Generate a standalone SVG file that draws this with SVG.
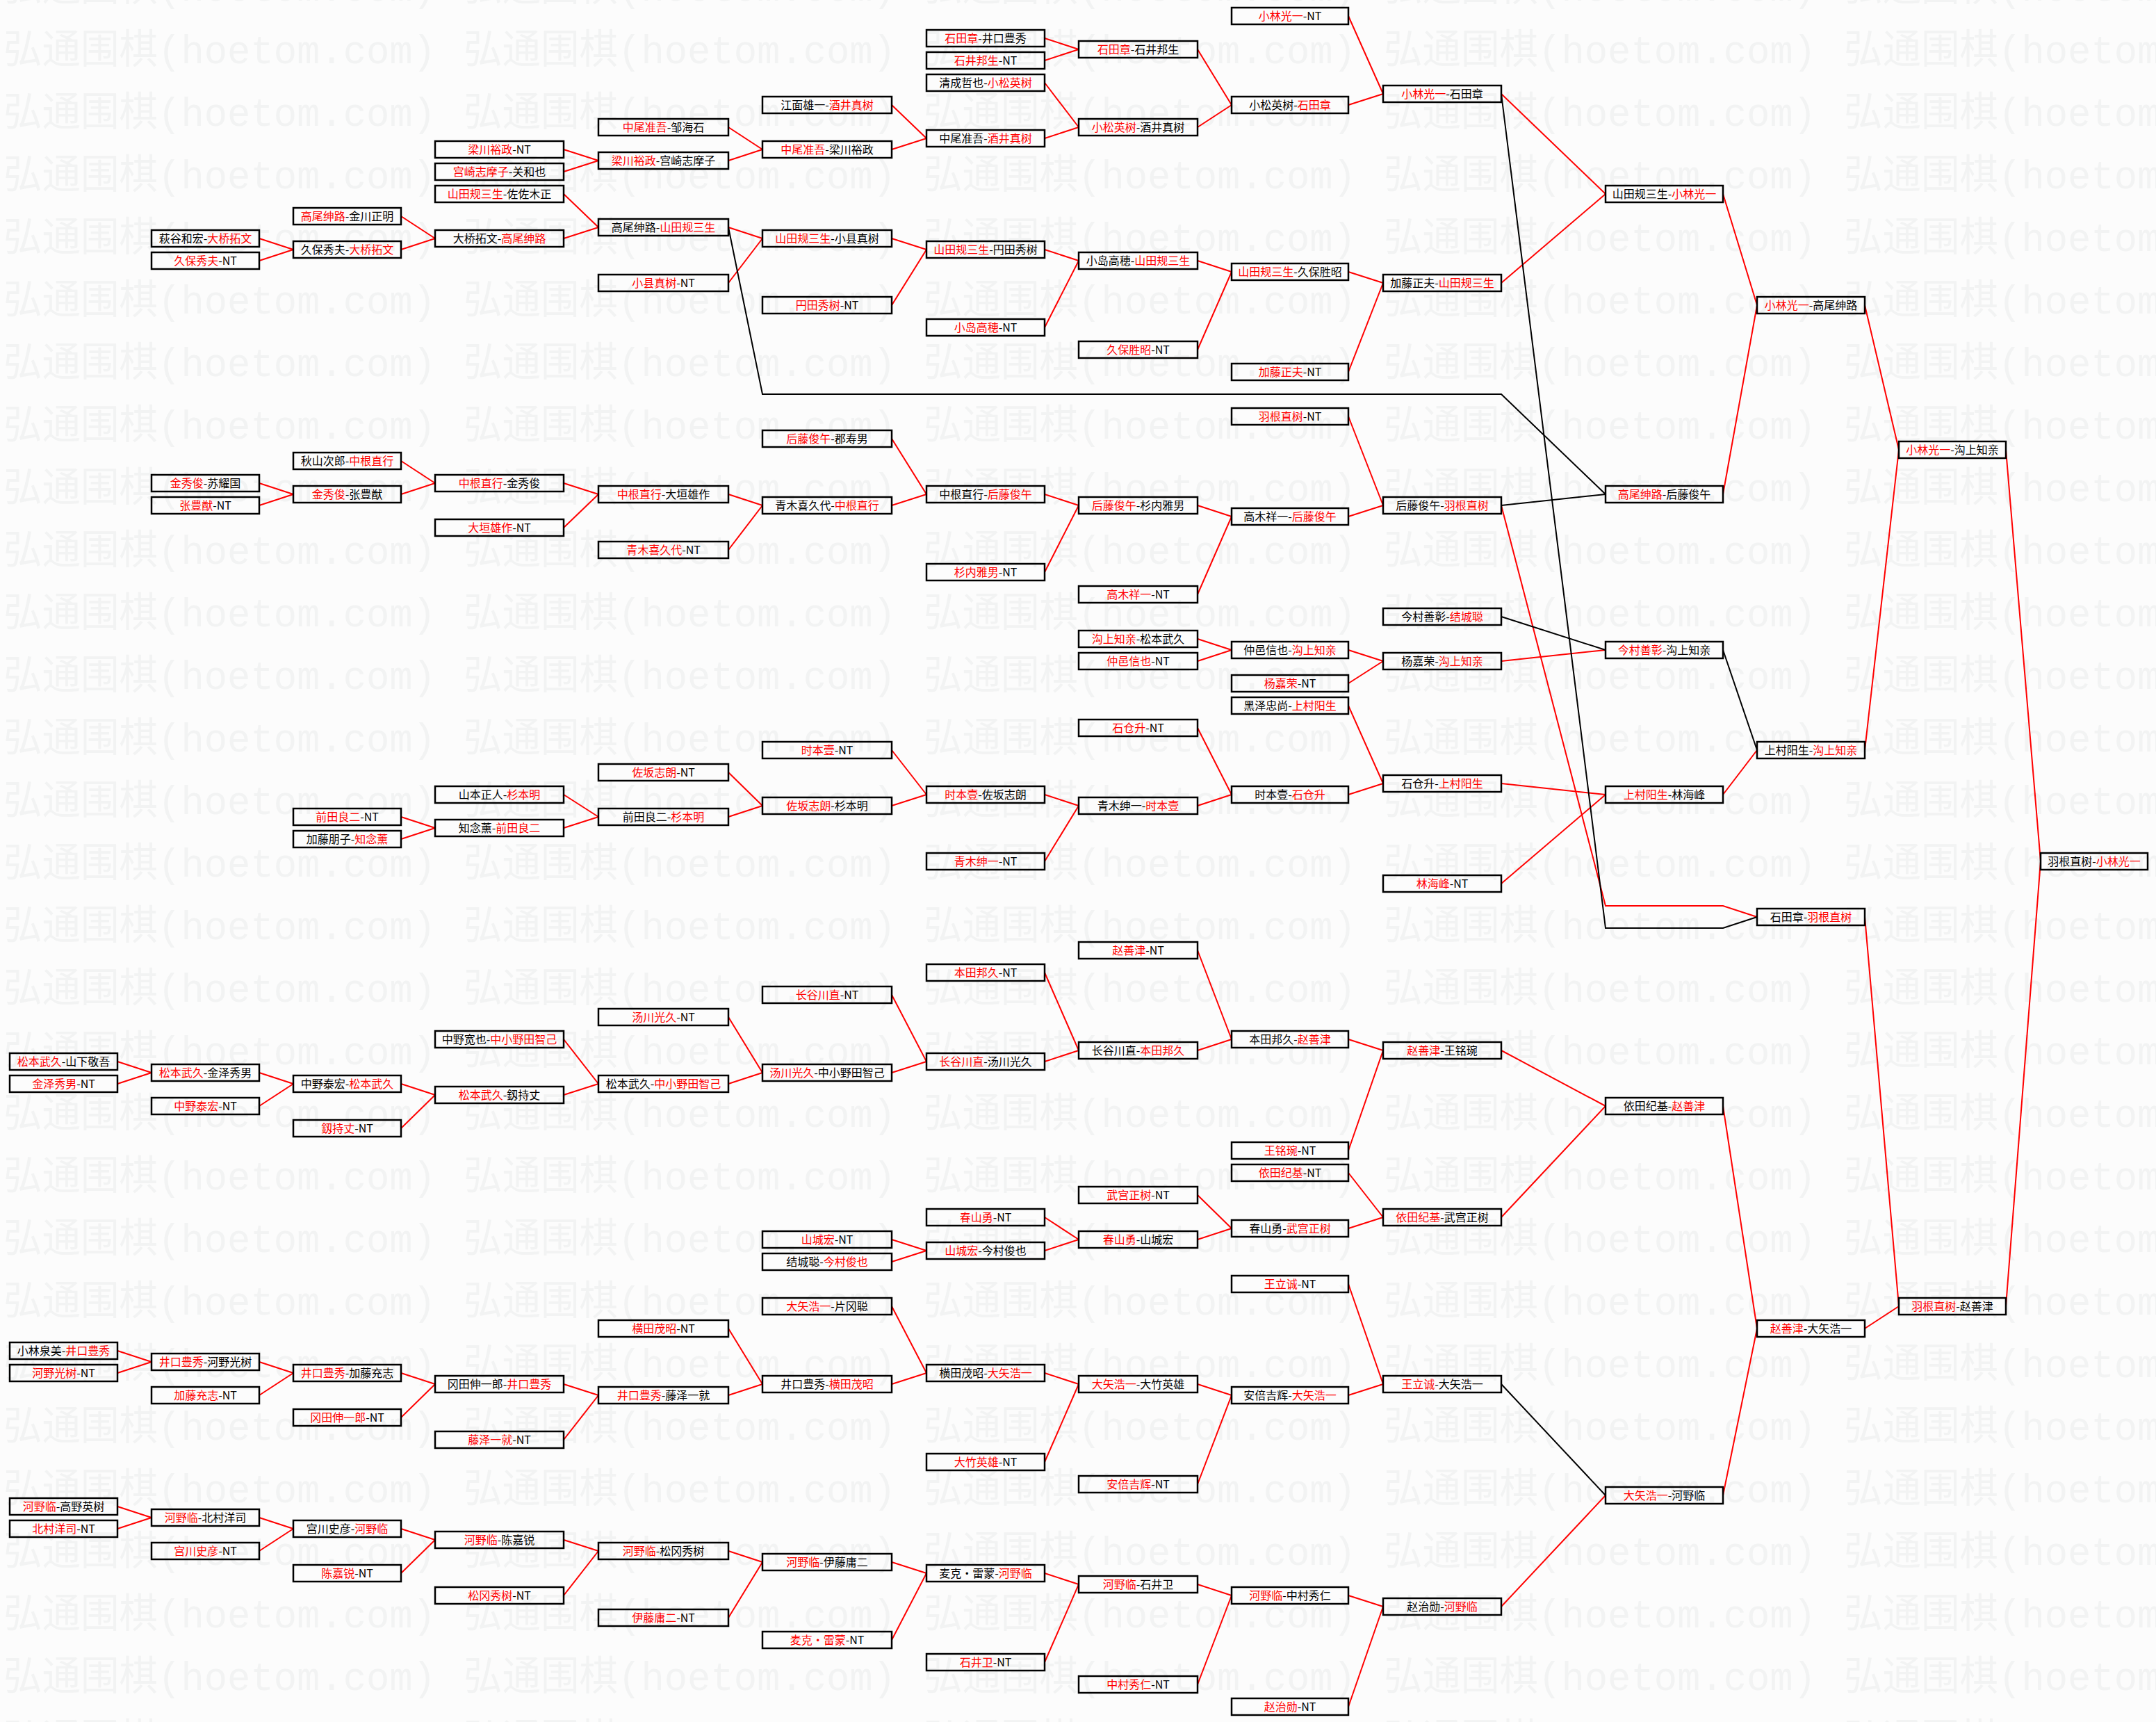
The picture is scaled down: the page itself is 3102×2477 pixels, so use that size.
<svg xmlns="http://www.w3.org/2000/svg" width="3102" height="2477" viewBox="0 0 3102 2477">
<style>
.n rect{fill:none;stroke:#000;stroke-width:2.5}
.n text{font-family:"Noto Sans CJK SC","Noto Sans CJK JP",sans-serif;font-size:16px;text-anchor:middle;fill:#000}
.r{fill:#f00}
.cr path{fill:none;stroke:#f00;stroke-width:2}
.cb path{fill:none;stroke:#000;stroke-width:2}
.w{font-family:"Liberation Mono","Noto Sans CJK SC",monospace;font-size:58px;fill:#f2f3f3}
</style>
<defs>
<pattern id="wm" patternUnits="userSpaceOnUse" x="5" y="24" width="662" height="90">
<text class="w" x="0" y="67" textLength="622" lengthAdjust="spacingAndGlyphs">弘通围棋(hoetom.com)</text>
</pattern>
</defs>
<rect width="3102" height="2477" fill="#fcfcfc"/>
<rect width="3102" height="2477" fill="url(#wm)"/>

<g id="connectors">
<g class="cr">
<path d="M169 1527L218 1543"/><path d="M169 1559L218 1543"/><path d="M169 1943L218 1959"/><path d="M169 1975L218 1959"/><path d="M169 2167L218 2183"/><path d="M169 2199L218 2183"/>
<path d="M373 343L422 359"/><path d="M373 375L422 359"/><path d="M373 695L422 711"/><path d="M373 727L422 711"/><path d="M373 1543L422 1559"/><path d="M373 1591L422 1559"/><path d="M373 1959L422 1975"/><path d="M373 2007L422 1975"/><path d="M373 2183L422 2199"/><path d="M373 2231L422 2199"/>
<path d="M577 311L626 343"/><path d="M577 359L626 343"/><path d="M577 663L626 695"/><path d="M577 711L626 695"/><path d="M577 1175L626 1191"/><path d="M577 1207L626 1191"/><path d="M577 1559L626 1575"/><path d="M577 1623L626 1575"/><path d="M577 1975L626 1991"/><path d="M577 2039L626 1991"/><path d="M577 2199L626 2215"/><path d="M577 2263L626 2215"/>
<path d="M811 215L861 231"/><path d="M811 247L861 231"/><path d="M811 279L861 327"/><path d="M811 343L861 327"/><path d="M811 695L861 711"/><path d="M811 759L861 711"/><path d="M811 1143L861 1175"/><path d="M811 1191L861 1175"/><path d="M811 1495L861 1559"/><path d="M811 1575L861 1559"/><path d="M811 1991L861 2007"/><path d="M811 2071L861 2007"/><path d="M811 2215L861 2231"/><path d="M811 2295L861 2231"/>
<path d="M1048 183L1097 215"/><path d="M1048 231L1097 215"/><path d="M1048 327L1097 343"/><path d="M1048 407L1097 343"/><path d="M1048 711L1097 727"/><path d="M1048 791L1097 727"/><path d="M1048 1111L1097 1159"/><path d="M1048 1175L1097 1159"/><path d="M1048 1463L1097 1543"/><path d="M1048 1559L1097 1543"/><path d="M1048 1911L1097 1991"/><path d="M1048 2007L1097 1991"/><path d="M1048 2231L1097 2247"/><path d="M1048 2327L1097 2247"/>
<path d="M1283 151L1333 199"/><path d="M1283 215L1333 199"/><path d="M1283 343L1333 359"/><path d="M1283 439L1333 359"/><path d="M1283 631L1333 711"/><path d="M1283 727L1333 711"/><path d="M1283 1079L1333 1143"/><path d="M1283 1159L1333 1143"/><path d="M1283 1431L1333 1527"/><path d="M1283 1543L1333 1527"/><path d="M1283 1783L1333 1799"/><path d="M1283 1815L1333 1799"/><path d="M1283 1879L1333 1975"/><path d="M1283 1991L1333 1975"/><path d="M1283 2247L1333 2263"/><path d="M1283 2359L1333 2263"/>
<path d="M1503 55L1552 71"/><path d="M1503 87L1552 71"/><path d="M1503 119L1552 183"/><path d="M1503 199L1552 183"/><path d="M1503 359L1552 375"/><path d="M1503 471L1552 375"/><path d="M1503 711L1552 727"/><path d="M1503 823L1552 727"/><path d="M1503 1143L1552 1159"/><path d="M1503 1239L1552 1159"/><path d="M1503 1399L1552 1511"/><path d="M1503 1527L1552 1511"/><path d="M1503 1751L1552 1783"/><path d="M1503 1799L1552 1783"/><path d="M1503 1975L1552 1991"/><path d="M1503 2103L1552 1991"/><path d="M1503 2263L1552 2279"/><path d="M1503 2391L1552 2279"/>
<path d="M1723 71L1772 151"/><path d="M1723 183L1772 151"/><path d="M1723 375L1772 391"/><path d="M1723 503L1772 391"/><path d="M1723 727L1772 743"/><path d="M1723 855L1772 743"/><path d="M1723 919L1772 935"/><path d="M1723 951L1772 935"/><path d="M1723 1047L1772 1143"/><path d="M1723 1159L1772 1143"/><path d="M1723 1367L1772 1495"/><path d="M1723 1511L1772 1495"/><path d="M1723 1719L1772 1767"/><path d="M1723 1783L1772 1767"/><path d="M1723 1991L1772 2007"/><path d="M1723 2135L1772 2007"/><path d="M1723 2279L1772 2295"/><path d="M1723 2423L1772 2295"/>
<path d="M1940 23L1990 135"/><path d="M1940 151L1990 135"/><path d="M1940 391L1990 407"/><path d="M1940 535L1990 407"/><path d="M1940 599L1990 727"/><path d="M1940 743L1990 727"/><path d="M1940 935L1990 951"/><path d="M1940 983L1990 951"/><path d="M1940 1015L1990 1127"/><path d="M1940 1143L1990 1127"/><path d="M1940 1495L1990 1511"/><path d="M1940 1655L1990 1511"/><path d="M1940 1687L1990 1751"/><path d="M1940 1767L1990 1751"/><path d="M1940 1847L1990 1991"/><path d="M1940 2007L1990 1991"/><path d="M1940 2295L1990 2311"/><path d="M1940 2455L1990 2311"/>
<path d="M2160 135L2310 279"/><path d="M2160 407L2310 279"/><path d="M2160 951L2310 935"/><path d="M2160 1127L2310 1143"/><path d="M2160 1271L2310 1143"/><path d="M2160 1511L2310 1591"/><path d="M2160 1751L2310 1591"/><path d="M2160 2311L2310 2151"/>
<path d="M2160 727L2310 1303L2479 1303L2528 1319"/>
<path d="M2479 279L2528 439"/><path d="M2479 711L2528 439"/><path d="M2479 1143L2528 1079"/><path d="M2479 1591L2528 1911"/><path d="M2479 2151L2528 1911"/>
<path d="M2683 439L2732 647"/><path d="M2683 1079L2732 647"/><path d="M2683 1319L2732 1879"/><path d="M2683 1911L2732 1879"/>
<path d="M2886 647L2936 1239"/><path d="M2886 1879L2936 1239"/>
</g>
<g class="cb">
<path d="M1048 327L1097 567L2160 567L2310 711"/>
<path d="M2160 727L2310 711"/>
<path d="M2160 135L2310 1335L2479 1335L2528 1319"/>
<path d="M2160 887L2310 935"/>
<path d="M2479 935L2528 1079"/>
<path d="M2160 1991L2310 2151"/>
</g>
</g>

<g id="A1" class="n" transform="translate(14,1515)"><rect width="155" height="24"/><text x="77.5" y="17.5"><tspan class="r">松本武久</tspan>-山下敬吾</text></g>
<g id="A2" class="n" transform="translate(14,1547)"><rect width="155" height="24"/><text x="77.5" y="17.5"><tspan class="r">金泽秀男</tspan>-NT</text></g>
<g id="A3" class="n" transform="translate(14,1931)"><rect width="155" height="24"/><text x="77.5" y="17.5">小林泉美-<tspan class="r">井口豊秀</tspan></text></g>
<g id="A4" class="n" transform="translate(14,1963)"><rect width="155" height="24"/><text x="77.5" y="17.5"><tspan class="r">河野光树</tspan>-NT</text></g>
<g id="A5" class="n" transform="translate(14,2155)"><rect width="155" height="24"/><text x="77.5" y="17.5"><tspan class="r">河野临</tspan>-高野英树</text></g>
<g id="A6" class="n" transform="translate(14,2187)"><rect width="155" height="24"/><text x="77.5" y="17.5"><tspan class="r">北村洋司</tspan>-NT</text></g>

<g id="B1" class="n" transform="translate(218,331)"><rect width="155" height="24"/><text x="77.5" y="17.5">萩谷和宏-<tspan class="r">大桥拓文</tspan></text></g>
<g id="B2" class="n" transform="translate(218,363)"><rect width="155" height="24"/><text x="77.5" y="17.5"><tspan class="r">久保秀夫</tspan>-NT</text></g>
<g id="B3" class="n" transform="translate(218,683)"><rect width="155" height="24"/><text x="77.5" y="17.5"><tspan class="r">金秀俊</tspan>-苏耀国</text></g>
<g id="B4" class="n" transform="translate(218,715)"><rect width="155" height="24"/><text x="77.5" y="17.5"><tspan class="r">张豊猷</tspan>-NT</text></g>
<g id="B5" class="n" transform="translate(218,1531)"><rect width="155" height="24"/><text x="77.5" y="17.5"><tspan class="r">松本武久</tspan>-金泽秀男</text></g>
<g id="B6" class="n" transform="translate(218,1579)"><rect width="155" height="24"/><text x="77.5" y="17.5"><tspan class="r">中野泰宏</tspan>-NT</text></g>
<g id="B7" class="n" transform="translate(218,1947)"><rect width="155" height="24"/><text x="77.5" y="17.5"><tspan class="r">井口豊秀</tspan>-河野光树</text></g>
<g id="B8" class="n" transform="translate(218,1995)"><rect width="155" height="24"/><text x="77.5" y="17.5"><tspan class="r">加藤充志</tspan>-NT</text></g>
<g id="B9" class="n" transform="translate(218,2171)"><rect width="155" height="24"/><text x="77.5" y="17.5"><tspan class="r">河野临</tspan>-北村洋司</text></g>
<g id="B10" class="n" transform="translate(218,2219)"><rect width="155" height="24"/><text x="77.5" y="17.5"><tspan class="r">宫川史彦</tspan>-NT</text></g>

<g id="C1" class="n" transform="translate(422,299)"><rect width="155" height="24"/><text x="77.5" y="17.5"><tspan class="r">高尾绅路</tspan>-金川正明</text></g>
<g id="C2" class="n" transform="translate(422,347)"><rect width="155" height="24"/><text x="77.5" y="17.5">久保秀夫-<tspan class="r">大桥拓文</tspan></text></g>
<g id="C3" class="n" transform="translate(422,651)"><rect width="155" height="24"/><text x="77.5" y="17.5">秋山次郎-<tspan class="r">中根直行</tspan></text></g>
<g id="C4" class="n" transform="translate(422,699)"><rect width="155" height="24"/><text x="77.5" y="17.5"><tspan class="r">金秀俊</tspan>-张豊猷</text></g>
<g id="C5" class="n" transform="translate(422,1163)"><rect width="155" height="24"/><text x="77.5" y="17.5"><tspan class="r">前田良二</tspan>-NT</text></g>
<g id="C6" class="n" transform="translate(422,1195)"><rect width="155" height="24"/><text x="77.5" y="17.5">加藤朋子-<tspan class="r">知念薰</tspan></text></g>
<g id="C7" class="n" transform="translate(422,1547)"><rect width="155" height="24"/><text x="77.5" y="17.5">中野泰宏-<tspan class="r">松本武久</tspan></text></g>
<g id="C8" class="n" transform="translate(422,1611)"><rect width="155" height="24"/><text x="77.5" y="17.5"><tspan class="r">釼持丈</tspan>-NT</text></g>
<g id="C9" class="n" transform="translate(422,1963)"><rect width="155" height="24"/><text x="77.5" y="17.5"><tspan class="r">井口豊秀</tspan>-加藤充志</text></g>
<g id="C10" class="n" transform="translate(422,2027)"><rect width="155" height="24"/><text x="77.5" y="17.5"><tspan class="r">冈田伸一郎</tspan>-NT</text></g>
<g id="C11" class="n" transform="translate(422,2187)"><rect width="155" height="24"/><text x="77.5" y="17.5">宫川史彦-<tspan class="r">河野临</tspan></text></g>
<g id="C12" class="n" transform="translate(422,2251)"><rect width="155" height="24"/><text x="77.5" y="17.5"><tspan class="r">陈嘉锐</tspan>-NT</text></g>

<g id="D1" class="n" transform="translate(626,203)"><rect width="185" height="24"/><text x="92.5" y="17.5"><tspan class="r">梁川裕政</tspan>-NT</text></g>
<g id="D2" class="n" transform="translate(626,235)"><rect width="185" height="24"/><text x="92.5" y="17.5"><tspan class="r">宫崎志摩子</tspan>-关和也</text></g>
<g id="D3" class="n" transform="translate(626,267)"><rect width="185" height="24"/><text x="92.5" y="17.5"><tspan class="r">山田规三生</tspan>-佐佐木正</text></g>
<g id="D4" class="n" transform="translate(626,331)"><rect width="185" height="24"/><text x="92.5" y="17.5">大桥拓文-<tspan class="r">高尾绅路</tspan></text></g>
<g id="D5" class="n" transform="translate(626,683)"><rect width="185" height="24"/><text x="92.5" y="17.5"><tspan class="r">中根直行</tspan>-金秀俊</text></g>
<g id="D6" class="n" transform="translate(626,747)"><rect width="185" height="24"/><text x="92.5" y="17.5"><tspan class="r">大垣雄作</tspan>-NT</text></g>
<g id="D7" class="n" transform="translate(626,1131)"><rect width="185" height="24"/><text x="92.5" y="17.5">山本正人-<tspan class="r">杉本明</tspan></text></g>
<g id="D8" class="n" transform="translate(626,1179)"><rect width="185" height="24"/><text x="92.5" y="17.5">知念薰-<tspan class="r">前田良二</tspan></text></g>
<g id="D9" class="n" transform="translate(626,1483)"><rect width="185" height="24"/><text x="92.5" y="17.5">中野宽也-<tspan class="r">中小野田智己</tspan></text></g>
<g id="D10" class="n" transform="translate(626,1563)"><rect width="185" height="24"/><text x="92.5" y="17.5"><tspan class="r">松本武久</tspan>-釼持丈</text></g>
<g id="D11" class="n" transform="translate(626,1979)"><rect width="185" height="24"/><text x="92.5" y="17.5">冈田伸一郎-<tspan class="r">井口豊秀</tspan></text></g>
<g id="D12" class="n" transform="translate(626,2059)"><rect width="185" height="24"/><text x="92.5" y="17.5"><tspan class="r">藤泽一就</tspan>-NT</text></g>
<g id="D13" class="n" transform="translate(626,2203)"><rect width="185" height="24"/><text x="92.5" y="17.5"><tspan class="r">河野临</tspan>-陈嘉锐</text></g>
<g id="D14" class="n" transform="translate(626,2283)"><rect width="185" height="24"/><text x="92.5" y="17.5"><tspan class="r">松冈秀树</tspan>-NT</text></g>

<g id="E1" class="n" transform="translate(861,171)"><rect width="187" height="24"/><text x="93.5" y="17.5"><tspan class="r">中尾准吾</tspan>-邹海石</text></g>
<g id="E2" class="n" transform="translate(861,219)"><rect width="187" height="24"/><text x="93.5" y="17.5"><tspan class="r">梁川裕政</tspan>-宫崎志摩子</text></g>
<g id="E3" class="n" transform="translate(861,315)"><rect width="187" height="24"/><text x="93.5" y="17.5">高尾绅路-<tspan class="r">山田规三生</tspan></text></g>
<g id="E4" class="n" transform="translate(861,395)"><rect width="187" height="24"/><text x="93.5" y="17.5"><tspan class="r">小县真树</tspan>-NT</text></g>
<g id="E5" class="n" transform="translate(861,699)"><rect width="187" height="24"/><text x="93.5" y="17.5"><tspan class="r">中根直行</tspan>-大垣雄作</text></g>
<g id="E6" class="n" transform="translate(861,779)"><rect width="187" height="24"/><text x="93.5" y="17.5"><tspan class="r">青木喜久代</tspan>-NT</text></g>
<g id="E7" class="n" transform="translate(861,1099)"><rect width="187" height="24"/><text x="93.5" y="17.5"><tspan class="r">佐坂志朗</tspan>-NT</text></g>
<g id="E8" class="n" transform="translate(861,1163)"><rect width="187" height="24"/><text x="93.5" y="17.5">前田良二-<tspan class="r">杉本明</tspan></text></g>
<g id="E9" class="n" transform="translate(861,1451)"><rect width="187" height="24"/><text x="93.5" y="17.5"><tspan class="r">汤川光久</tspan>-NT</text></g>
<g id="E10" class="n" transform="translate(861,1547)"><rect width="187" height="24"/><text x="93.5" y="17.5">松本武久-<tspan class="r">中小野田智己</tspan></text></g>
<g id="E11" class="n" transform="translate(861,1899)"><rect width="187" height="24"/><text x="93.5" y="17.5"><tspan class="r">横田茂昭</tspan>-NT</text></g>
<g id="E12" class="n" transform="translate(861,1995)"><rect width="187" height="24"/><text x="93.5" y="17.5"><tspan class="r">井口豊秀</tspan>-藤泽一就</text></g>
<g id="E13" class="n" transform="translate(861,2219)"><rect width="187" height="24"/><text x="93.5" y="17.5"><tspan class="r">河野临</tspan>-松冈秀树</text></g>
<g id="E14" class="n" transform="translate(861,2315)"><rect width="187" height="24"/><text x="93.5" y="17.5"><tspan class="r">伊藤庸二</tspan>-NT</text></g>

<g id="F1" class="n" transform="translate(1097,139)"><rect width="186" height="24"/><text x="93" y="17.5">江面雄一-<tspan class="r">酒井真树</tspan></text></g>
<g id="F2" class="n" transform="translate(1097,203)"><rect width="186" height="24"/><text x="93" y="17.5"><tspan class="r">中尾准吾</tspan>-梁川裕政</text></g>
<g id="F3" class="n" transform="translate(1097,331)"><rect width="186" height="24"/><text x="93" y="17.5"><tspan class="r">山田规三生</tspan>-小县真树</text></g>
<g id="F4" class="n" transform="translate(1097,427)"><rect width="186" height="24"/><text x="93" y="17.5"><tspan class="r">円田秀树</tspan>-NT</text></g>
<g id="F5" class="n" transform="translate(1097,619)"><rect width="186" height="24"/><text x="93" y="17.5"><tspan class="r">后藤俊午</tspan>-郡寿男</text></g>
<g id="F6" class="n" transform="translate(1097,715)"><rect width="186" height="24"/><text x="93" y="17.5">青木喜久代-<tspan class="r">中根直行</tspan></text></g>
<g id="F7" class="n" transform="translate(1097,1067)"><rect width="186" height="24"/><text x="93" y="17.5"><tspan class="r">时本壹</tspan>-NT</text></g>
<g id="F8" class="n" transform="translate(1097,1147)"><rect width="186" height="24"/><text x="93" y="17.5"><tspan class="r">佐坂志朗</tspan>-杉本明</text></g>
<g id="F9" class="n" transform="translate(1097,1419)"><rect width="186" height="24"/><text x="93" y="17.5"><tspan class="r">长谷川直</tspan>-NT</text></g>
<g id="F10" class="n" transform="translate(1097,1531)"><rect width="186" height="24"/><text x="93" y="17.5"><tspan class="r">汤川光久</tspan>-中小野田智己</text></g>
<g id="F11" class="n" transform="translate(1097,1771)"><rect width="186" height="24"/><text x="93" y="17.5"><tspan class="r">山城宏</tspan>-NT</text></g>
<g id="F12" class="n" transform="translate(1097,1803)"><rect width="186" height="24"/><text x="93" y="17.5">结城聪-<tspan class="r">今村俊也</tspan></text></g>
<g id="F13" class="n" transform="translate(1097,1867)"><rect width="186" height="24"/><text x="93" y="17.5"><tspan class="r">大矢浩一</tspan>-片冈聪</text></g>
<g id="F14" class="n" transform="translate(1097,1979)"><rect width="186" height="24"/><text x="93" y="17.5">井口豊秀-<tspan class="r">横田茂昭</tspan></text></g>
<g id="F15" class="n" transform="translate(1097,2235)"><rect width="186" height="24"/><text x="93" y="17.5"><tspan class="r">河野临</tspan>-伊藤庸二</text></g>
<g id="F16" class="n" transform="translate(1097,2347)"><rect width="186" height="24"/><text x="93" y="17.5"><tspan class="r">麦克・雷蒙</tspan>-NT</text></g>

<g id="G1" class="n" transform="translate(1333,43)"><rect width="170" height="24"/><text x="85" y="17.5"><tspan class="r">石田章</tspan>-井口豊秀</text></g>
<g id="G2" class="n" transform="translate(1333,75)"><rect width="170" height="24"/><text x="85" y="17.5"><tspan class="r">石井邦生</tspan>-NT</text></g>
<g id="G3" class="n" transform="translate(1333,107)"><rect width="170" height="24"/><text x="85" y="17.5">清成哲也-<tspan class="r">小松英树</tspan></text></g>
<g id="G4" class="n" transform="translate(1333,187)"><rect width="170" height="24"/><text x="85" y="17.5">中尾准吾-<tspan class="r">酒井真树</tspan></text></g>
<g id="G5" class="n" transform="translate(1333,347)"><rect width="170" height="24"/><text x="85" y="17.5"><tspan class="r">山田规三生</tspan>-円田秀树</text></g>
<g id="G6" class="n" transform="translate(1333,459)"><rect width="170" height="24"/><text x="85" y="17.5"><tspan class="r">小岛高穂</tspan>-NT</text></g>
<g id="G7" class="n" transform="translate(1333,699)"><rect width="170" height="24"/><text x="85" y="17.5">中根直行-<tspan class="r">后藤俊午</tspan></text></g>
<g id="G8" class="n" transform="translate(1333,811)"><rect width="170" height="24"/><text x="85" y="17.5"><tspan class="r">杉内雅男</tspan>-NT</text></g>
<g id="G9" class="n" transform="translate(1333,1131)"><rect width="170" height="24"/><text x="85" y="17.5"><tspan class="r">时本壹</tspan>-佐坂志朗</text></g>
<g id="G10" class="n" transform="translate(1333,1227)"><rect width="170" height="24"/><text x="85" y="17.5"><tspan class="r">青木绅一</tspan>-NT</text></g>
<g id="G11" class="n" transform="translate(1333,1387)"><rect width="170" height="24"/><text x="85" y="17.5"><tspan class="r">本田邦久</tspan>-NT</text></g>
<g id="G12" class="n" transform="translate(1333,1515)"><rect width="170" height="24"/><text x="85" y="17.5"><tspan class="r">长谷川直</tspan>-汤川光久</text></g>
<g id="G13" class="n" transform="translate(1333,1739)"><rect width="170" height="24"/><text x="85" y="17.5"><tspan class="r">春山勇</tspan>-NT</text></g>
<g id="G14" class="n" transform="translate(1333,1787)"><rect width="170" height="24"/><text x="85" y="17.5"><tspan class="r">山城宏</tspan>-今村俊也</text></g>
<g id="G15" class="n" transform="translate(1333,1963)"><rect width="170" height="24"/><text x="85" y="17.5">横田茂昭-<tspan class="r">大矢浩一</tspan></text></g>
<g id="G16" class="n" transform="translate(1333,2091)"><rect width="170" height="24"/><text x="85" y="17.5"><tspan class="r">大竹英雄</tspan>-NT</text></g>
<g id="G17" class="n" transform="translate(1333,2251)"><rect width="170" height="24"/><text x="85" y="17.5">麦克・雷蒙-<tspan class="r">河野临</tspan></text></g>
<g id="G18" class="n" transform="translate(1333,2379)"><rect width="170" height="24"/><text x="85" y="17.5"><tspan class="r">石井卫</tspan>-NT</text></g>

<g id="H1" class="n" transform="translate(1552,59)"><rect width="171" height="24"/><text x="85.5" y="17.5"><tspan class="r">石田章</tspan>-石井邦生</text></g>
<g id="H2" class="n" transform="translate(1552,171)"><rect width="171" height="24"/><text x="85.5" y="17.5"><tspan class="r">小松英树</tspan>-酒井真树</text></g>
<g id="H3" class="n" transform="translate(1552,363)"><rect width="171" height="24"/><text x="85.5" y="17.5">小岛高穂-<tspan class="r">山田规三生</tspan></text></g>
<g id="H4" class="n" transform="translate(1552,491)"><rect width="171" height="24"/><text x="85.5" y="17.5"><tspan class="r">久保胜昭</tspan>-NT</text></g>
<g id="H5" class="n" transform="translate(1552,715)"><rect width="171" height="24"/><text x="85.5" y="17.5"><tspan class="r">后藤俊午</tspan>-杉内雅男</text></g>
<g id="H6" class="n" transform="translate(1552,843)"><rect width="171" height="24"/><text x="85.5" y="17.5"><tspan class="r">高木祥一</tspan>-NT</text></g>
<g id="H7" class="n" transform="translate(1552,907)"><rect width="171" height="24"/><text x="85.5" y="17.5"><tspan class="r">沟上知亲</tspan>-松本武久</text></g>
<g id="H8" class="n" transform="translate(1552,939)"><rect width="171" height="24"/><text x="85.5" y="17.5"><tspan class="r">仲邑信也</tspan>-NT</text></g>
<g id="H9" class="n" transform="translate(1552,1035)"><rect width="171" height="24"/><text x="85.5" y="17.5"><tspan class="r">石仓升</tspan>-NT</text></g>
<g id="H10" class="n" transform="translate(1552,1147)"><rect width="171" height="24"/><text x="85.5" y="17.5">青木绅一-<tspan class="r">时本壹</tspan></text></g>
<g id="H11" class="n" transform="translate(1552,1355)"><rect width="171" height="24"/><text x="85.5" y="17.5"><tspan class="r">赵善津</tspan>-NT</text></g>
<g id="H12" class="n" transform="translate(1552,1499)"><rect width="171" height="24"/><text x="85.5" y="17.5">长谷川直-<tspan class="r">本田邦久</tspan></text></g>
<g id="H13" class="n" transform="translate(1552,1707)"><rect width="171" height="24"/><text x="85.5" y="17.5"><tspan class="r">武宫正树</tspan>-NT</text></g>
<g id="H14" class="n" transform="translate(1552,1771)"><rect width="171" height="24"/><text x="85.5" y="17.5"><tspan class="r">春山勇</tspan>-山城宏</text></g>
<g id="H15" class="n" transform="translate(1552,1979)"><rect width="171" height="24"/><text x="85.5" y="17.5"><tspan class="r">大矢浩一</tspan>-大竹英雄</text></g>
<g id="H16" class="n" transform="translate(1552,2123)"><rect width="171" height="24"/><text x="85.5" y="17.5"><tspan class="r">安倍吉辉</tspan>-NT</text></g>
<g id="H17" class="n" transform="translate(1552,2267)"><rect width="171" height="24"/><text x="85.5" y="17.5"><tspan class="r">河野临</tspan>-石井卫</text></g>
<g id="H18" class="n" transform="translate(1552,2411)"><rect width="171" height="24"/><text x="85.5" y="17.5"><tspan class="r">中村秀仁</tspan>-NT</text></g>

<g id="I1" class="n" transform="translate(1772,11)"><rect width="168" height="24"/><text x="84" y="17.5"><tspan class="r">小林光一</tspan>-NT</text></g>
<g id="I2" class="n" transform="translate(1772,139)"><rect width="168" height="24"/><text x="84" y="17.5">小松英树-<tspan class="r">石田章</tspan></text></g>
<g id="I3" class="n" transform="translate(1772,379)"><rect width="168" height="24"/><text x="84" y="17.5"><tspan class="r">山田规三生</tspan>-久保胜昭</text></g>
<g id="I4" class="n" transform="translate(1772,523)"><rect width="168" height="24"/><text x="84" y="17.5"><tspan class="r">加藤正夫</tspan>-NT</text></g>
<g id="I5" class="n" transform="translate(1772,587)"><rect width="168" height="24"/><text x="84" y="17.5"><tspan class="r">羽根直树</tspan>-NT</text></g>
<g id="I6" class="n" transform="translate(1772,731)"><rect width="168" height="24"/><text x="84" y="17.5">高木祥一-<tspan class="r">后藤俊午</tspan></text></g>
<g id="I7" class="n" transform="translate(1772,923)"><rect width="168" height="24"/><text x="84" y="17.5">仲邑信也-<tspan class="r">沟上知亲</tspan></text></g>
<g id="I8" class="n" transform="translate(1772,971)"><rect width="168" height="24"/><text x="84" y="17.5"><tspan class="r">杨嘉荣</tspan>-NT</text></g>
<g id="I9" class="n" transform="translate(1772,1003)"><rect width="168" height="24"/><text x="84" y="17.5">黑泽忠尚-<tspan class="r">上村阳生</tspan></text></g>
<g id="I10" class="n" transform="translate(1772,1131)"><rect width="168" height="24"/><text x="84" y="17.5">时本壹-<tspan class="r">石仓升</tspan></text></g>
<g id="I11" class="n" transform="translate(1772,1483)"><rect width="168" height="24"/><text x="84" y="17.5">本田邦久-<tspan class="r">赵善津</tspan></text></g>
<g id="I12" class="n" transform="translate(1772,1643)"><rect width="168" height="24"/><text x="84" y="17.5"><tspan class="r">王铭琬</tspan>-NT</text></g>
<g id="I13" class="n" transform="translate(1772,1675)"><rect width="168" height="24"/><text x="84" y="17.5"><tspan class="r">依田纪基</tspan>-NT</text></g>
<g id="I14" class="n" transform="translate(1772,1755)"><rect width="168" height="24"/><text x="84" y="17.5">春山勇-<tspan class="r">武宫正树</tspan></text></g>
<g id="I15" class="n" transform="translate(1772,1835)"><rect width="168" height="24"/><text x="84" y="17.5"><tspan class="r">王立诚</tspan>-NT</text></g>
<g id="I16" class="n" transform="translate(1772,1995)"><rect width="168" height="24"/><text x="84" y="17.5">安倍吉辉-<tspan class="r">大矢浩一</tspan></text></g>
<g id="I17" class="n" transform="translate(1772,2283)"><rect width="168" height="24"/><text x="84" y="17.5"><tspan class="r">河野临</tspan>-中村秀仁</text></g>
<g id="I18" class="n" transform="translate(1772,2443)"><rect width="168" height="24"/><text x="84" y="17.5"><tspan class="r">赵治勋</tspan>-NT</text></g>

<g id="J1" class="n" transform="translate(1990,123)"><rect width="170" height="24"/><text x="85" y="17.5"><tspan class="r">小林光一</tspan>-石田章</text></g>
<g id="J2" class="n" transform="translate(1990,395)"><rect width="170" height="24"/><text x="85" y="17.5">加藤正夫-<tspan class="r">山田规三生</tspan></text></g>
<g id="J3" class="n" transform="translate(1990,715)"><rect width="170" height="24"/><text x="85" y="17.5">后藤俊午-<tspan class="r">羽根直树</tspan></text></g>
<g id="J4" class="n" transform="translate(1990,875)"><rect width="170" height="24"/><text x="85" y="17.5">今村善彰-<tspan class="r">结城聪</tspan></text></g>
<g id="J5" class="n" transform="translate(1990,939)"><rect width="170" height="24"/><text x="85" y="17.5">杨嘉荣-<tspan class="r">沟上知亲</tspan></text></g>
<g id="J6" class="n" transform="translate(1990,1115)"><rect width="170" height="24"/><text x="85" y="17.5">石仓升-<tspan class="r">上村阳生</tspan></text></g>
<g id="J7" class="n" transform="translate(1990,1259)"><rect width="170" height="24"/><text x="85" y="17.5"><tspan class="r">林海峰</tspan>-NT</text></g>
<g id="J8" class="n" transform="translate(1990,1499)"><rect width="170" height="24"/><text x="85" y="17.5"><tspan class="r">赵善津</tspan>-王铭琬</text></g>
<g id="J9" class="n" transform="translate(1990,1739)"><rect width="170" height="24"/><text x="85" y="17.5"><tspan class="r">依田纪基</tspan>-武宫正树</text></g>
<g id="J10" class="n" transform="translate(1990,1979)"><rect width="170" height="24"/><text x="85" y="17.5"><tspan class="r">王立诚</tspan>-大矢浩一</text></g>
<g id="J11" class="n" transform="translate(1990,2299)"><rect width="170" height="24"/><text x="85" y="17.5">赵治勋-<tspan class="r">河野临</tspan></text></g>

<g id="K1" class="n" transform="translate(2310,267)"><rect width="169" height="24"/><text x="84.5" y="17.5">山田规三生-<tspan class="r">小林光一</tspan></text></g>
<g id="K2" class="n" transform="translate(2310,699)"><rect width="169" height="24"/><text x="84.5" y="17.5"><tspan class="r">高尾绅路</tspan>-后藤俊午</text></g>
<g id="K3" class="n" transform="translate(2310,923)"><rect width="169" height="24"/><text x="84.5" y="17.5"><tspan class="r">今村善彰</tspan>-沟上知亲</text></g>
<g id="K4" class="n" transform="translate(2310,1131)"><rect width="169" height="24"/><text x="84.5" y="17.5"><tspan class="r">上村阳生</tspan>-林海峰</text></g>
<g id="K5" class="n" transform="translate(2310,1579)"><rect width="169" height="24"/><text x="84.5" y="17.5">依田纪基-<tspan class="r">赵善津</tspan></text></g>
<g id="K6" class="n" transform="translate(2310,2139)"><rect width="169" height="24"/><text x="84.5" y="17.5"><tspan class="r">大矢浩一</tspan>-河野临</text></g>

<g id="L1" class="n" transform="translate(2528,427)"><rect width="155" height="24"/><text x="77.5" y="17.5"><tspan class="r">小林光一</tspan>-高尾绅路</text></g>
<g id="L2" class="n" transform="translate(2528,1067)"><rect width="155" height="24"/><text x="77.5" y="17.5">上村阳生-<tspan class="r">沟上知亲</tspan></text></g>
<g id="L3" class="n" transform="translate(2528,1307)"><rect width="155" height="24"/><text x="77.5" y="17.5">石田章-<tspan class="r">羽根直树</tspan></text></g>
<g id="L4" class="n" transform="translate(2528,1899)"><rect width="155" height="24"/><text x="77.5" y="17.5"><tspan class="r">赵善津</tspan>-大矢浩一</text></g>

<g id="M1" class="n" transform="translate(2732,635)"><rect width="154" height="24"/><text x="77" y="17.5"><tspan class="r">小林光一</tspan>-沟上知亲</text></g>
<g id="M2" class="n" transform="translate(2732,1867)"><rect width="154" height="24"/><text x="77" y="17.5"><tspan class="r">羽根直树</tspan>-赵善津</text></g>

<g id="N1" class="n" transform="translate(2936,1227)"><rect width="154" height="24"/><text x="77" y="17.5">羽根直树-<tspan class="r">小林光一</tspan></text></g>
</svg>
